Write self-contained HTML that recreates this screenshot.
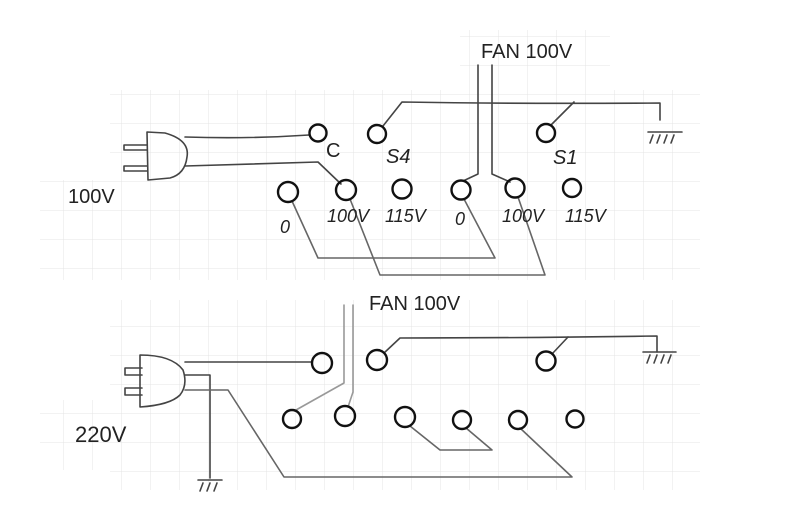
<!DOCTYPE html>
<html><head><meta charset="utf-8"><style>
html,body{margin:0;padding:0;background:#fff;}
svg{display:block;}
text{font-family:"Liberation Sans",sans-serif;fill:#222;}
</style></head><body>
<svg width="800" height="532" viewBox="0 0 800 532" xmlns="http://www.w3.org/2000/svg">
<defs>
<pattern id="g" width="29" height="29" patternUnits="userSpaceOnUse" x="6" y="8">
<path d="M29 0V29M0 29H29" stroke="#e4e4e4" stroke-width="1" fill="none"/>
</pattern>
</defs>
<rect x="110" y="90" width="590" height="190" fill="url(#g)"/>
<rect x="40" y="180" width="90" height="100" fill="url(#g)"/>
<rect x="110" y="300" width="590" height="190" fill="url(#g)"/>
<rect x="40" y="400" width="90" height="70" fill="url(#g)"/>
<rect x="460" y="30" width="150" height="70" fill="url(#g)"/>

<g stroke="#444" stroke-width="1.6" fill="none" stroke-linecap="round" stroke-linejoin="round">
<path d="M147 132 L165 133 Q190 140 187 157 Q185 174 170 178 L148 180 Z"/>
<path d="M124 145 H147 M124 150 H147 M124 166 H147 M124 171 H147 M124 145 V150 M124 166 V171"/>
<path d="M185 137 Q250 139 309 135"/>
<path d="M185 166 Q260 164 318 162 L341 184"/>
<path d="M383 126 L402 102 Q520 104 660 103 V120"/>
<path d="M551 125 L574 102"/>
<path d="M648 132 H682 M653 135 L650 143 M660 135 L657 143 M667 135 L664 143 M674 135 L671 143"/>
<path d="M478 65 V174 L463 181 M492 65 V174 L510 182"/>
<path d="M292 201 L318 258 H495 L464 199" stroke="#666"/>
<path d="M350 199 L380 275 H545 L518 197" stroke="#666"/>

<path d="M140 355 Q172 355 183 370 Q188 385 180 395 Q170 405 140 407 Z"/>
<path d="M125 368 H142 M125 375 H142 M125 388 H142 M125 395 H142 M125 368 V375 M125 388 V395"/>
<path d="M185 362 Q250 362 312 362"/>
<path d="M185 375 H210 V478"/>
<path d="M198 480 H222 M203 483 L200 491 M210 483 L207 491 M217 483 L214 491"/>
<path d="M185 390 H228 L284 477 H572 L520 428" stroke="#666"/>
<path d="M384 353 L400 338 Q520 338 657 336 V352"/>
<path d="M552 354 L568 337"/>
<path d="M643 352 H676 M650 355 L647 363 M657 355 L654 363 M664 355 L661 363 M671 355 L668 363"/>
<path d="M410 426 L440 450 H492 L466 428" stroke="#666"/>
<path d="M344 305 V383 L296 410" stroke="#999"/>
<path d="M353 305 V392 L348 407" stroke="#999"/>
</g>
<g stroke="#111" stroke-width="2.4" fill="none">
<circle cx="318" cy="133" r="8.5"/>
<circle cx="377" cy="134" r="9"/>
<circle cx="546" cy="133" r="9"/>
<circle cx="288" cy="192" r="10"/>
<circle cx="346" cy="190" r="10"/>
<circle cx="402" cy="189" r="9.5"/>
<circle cx="461" cy="190" r="9.5"/>
<circle cx="515" cy="188" r="9.5"/>
<circle cx="572" cy="188" r="9"/>
<circle cx="322" cy="363" r="10"/>
<circle cx="377" cy="360" r="10"/>
<circle cx="546" cy="361" r="9.5"/>
<circle cx="292" cy="419" r="9"/>
<circle cx="345" cy="416" r="10"/>
<circle cx="405" cy="417" r="10"/>
<circle cx="462" cy="420" r="9"/>
<circle cx="518" cy="420" r="9"/>
<circle cx="575" cy="419" r="8.5"/>
</g>

<g font-size="18">
<text x="481" y="58" font-size="20" fill="#333">FAN 100V</text>
<text x="326" y="157" font-size="20">C</text>
<text x="386" y="163" font-size="20" font-style="italic">S4</text>
<text x="553" y="164" font-size="20" font-style="italic">S1</text>
<text x="280" y="233" font-style="italic">0</text>
<text x="327" y="222" font-style="italic">100V</text>
<text x="385" y="222" font-style="italic">115V</text>
<text x="455" y="225" font-style="italic">0</text>
<text x="502" y="222" font-style="italic">100V</text>
<text x="565" y="222" font-style="italic">115V</text>
<text x="68" y="203" font-size="20">100V</text>
<text x="369" y="310" font-size="20" fill="#666">FAN 100V</text>
<text x="75" y="442" font-size="22">220V</text>
</g>
</svg>
</body></html>
